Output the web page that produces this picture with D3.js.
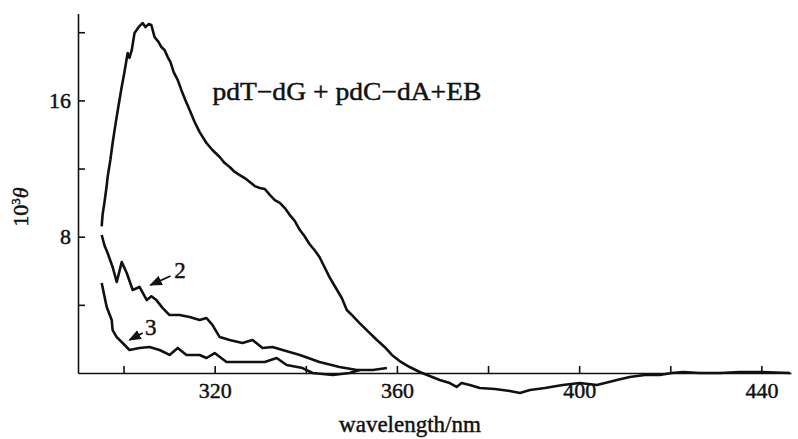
<!DOCTYPE html>
<html>
<head>
<meta charset="utf-8">
<script src="https://cdn.jsdelivr.net/npm/d3@7"></script>
<style>
  body { margin: 0; background: #fff; }
  svg text { font-family: "Liberation Serif", "DejaVu Serif", serif; fill: #111; stroke: #111; stroke-width: 0.45px; }
</style>
</head>
<body>
<svg id="chart" width="798" height="439"></svg>
<script>
/* DATA */
const c1Nm = [295.2,295.4,295.8,296.3,296.5,297.1,297.6,298.2,298.9,299.6,300.2,300.9,301.3,301.8,302.4,303.5,304.2,304.8,305.5,306.1,306.8,307.7,308.3,309.0,309.7,310.3,311.0,311.9,312.7,313.6,314.5,315.6,316.7,318.2,319.5,321.1,322.2,323.3,324.4,325.5,326.6,327.7,328.8,329.9,331.0,332.1,333.2,334.3,335.4,336.5,337.6,338.7,339.7,340.8,341.9,343.0,344.1,345.2,346.6,347.9,349.0,350.3,351.8,353.6,355.6,357.3,358.9,360.6,362.8,365.0,367.2,369.4,371.6,373.1,374.2,376.0,378.2,381.5,384.8,387.0,389.2,392.5,396.4,400.1,403.9,408.3,411.1,414.4,417.7,420.3,422.8,426.5,430.9,435.3,439.7,446.3];
const c1Val = [8.6,9.3,10.0,11.0,11.5,12.5,13.5,14.55,15.7,16.8,17.66,18.78,18.5,18.95,19.95,20.36,20.54,20.3,20.48,20.42,19.72,19.42,19.13,18.96,18.54,18.25,17.66,17.19,16.6,16.0,15.43,14.73,14.14,13.5,13.09,12.68,12.32,12.09,11.8,11.62,11.44,11.21,10.97,10.86,10.8,10.45,10.15,9.98,9.68,9.27,8.92,8.39,8.04,7.57,7.22,6.81,6.22,5.63,4.99,4.4,3.7,3.35,2.93,2.46,1.94,1.53,1.06,0.7,0.35,0.06,-0.18,-0.41,-0.59,-0.82,-0.59,-0.7,-0.88,-0.94,-1.06,-1.17,-1.0,-0.88,-0.7,-0.59,-0.7,-0.41,-0.23,-0.12,-0.12,0,0.06,0,0,0.06,0.06,0];

const c2Nm = [295.2,295.8,296.5,297.6,298.5,299.6,300.7,302.0,303.5,305.1,306.1,307.2,308.6,310.1,312.3,314.5,316.7,318.2,319.5,321.1,323.3,326.1,328.3,330.5,332.7,334.9,338.7,343.0,347.4,351.2,354.7,357.8];
const c2Val = [8.1,7.5,7.04,6.22,5.34,6.51,5.87,4.87,5.05,4.28,4.5,4.28,3.81,3.4,3.4,3.29,3.11,3.23,2.82,2.11,1.94,1.76,1.94,1.47,1.53,1.35,1.06,0.65,0.35,0.18,0.18,0.29];

const c3Nm = [295.2,296.3,297.4,297.6,298.5,299.8,301.3,303.5,305.7,307.9,310.1,311.9,313.8,316.7,318.2,320.0,322.6,324.8,327.7,331.0,333.6,335.8,339.3,341.5,345.9,349.6,351.8];
const c3Val = [5.28,3.87,3.11,2.52,2.11,1.76,1.35,1.47,1.53,1.35,1.06,1.47,1.06,1.06,0.88,1.17,0.65,0.65,0.65,0.65,0.88,0.47,0.29,0,-0.12,0,0.18];

const xTicks = [300,320,340,360,380,400,420,440];
const xLabels = [320,360,400,440];
const yTicks = [4,8,12,16,20];
const yLabels = [8,16];

const title = "pdT\u2212dG + pdC\u2212dA+EB";
const xTitle = "wavelength/nm";

/* SCALES */
const svg = d3.select("#chart");
const x = d3.scaleLinear().domain([290, 446.5]).range([78, 791]);
const y = d3.scaleLinear().domain([0, 21.1]).range([373, 13.5]);

/* AXES */
const xAxis = d3.axisBottom(x)
  .tickValues(xTicks)
  .tickSize(-7).tickSizeOuter(0).tickPadding(9)
  .tickFormat(d => xLabels.includes(d) ? d : "");
const gx = svg.append("g").attr("transform", "translate(0,373)").call(xAxis);

const yAxis = d3.axisLeft(y)
  .tickValues(yTicks)
  .tickSize(-7).tickSizeOuter(0).tickPadding(7)
  .tickFormat(d => yLabels.includes(d) ? d : "");
const gy = svg.append("g").attr("transform", "translate(78,0)").call(yAxis);

[gx, gy].forEach(g => {
  g.select(".domain").attr("stroke", "#111").attr("stroke-width", 1.6);
  g.selectAll(".tick line").attr("stroke", "#111").attr("stroke-width", 1.6);
  g.selectAll("text").attr("font-size", 22).attr("font-family", null).attr("fill", null);
});

/* CURVES */
const line = d3.line().x(d => x(d[0])).y(d => y(d[1]));
[[c1Nm, c1Val], [c2Nm, c2Val], [c3Nm, c3Val]].forEach(([nm, val]) => {
  svg.append("path")
    .datum(nm.map((n, i) => [n, val[i]]))
    .attr("d", line)
    .attr("fill", "none")
    .attr("stroke", "#111")
    .attr("stroke-width", 2.6)
    .attr("stroke-linejoin", "round");
});

/* LABELS */
svg.append("defs").append("marker")
  .attr("id", "head").attr("viewBox", "0 0 10 10")
  .attr("refX", 9).attr("refY", 5)
  .attr("markerWidth", 7).attr("markerHeight", 7)
  .attr("orient", "auto")
  .append("path").attr("d", "M0,1 L10,5 L0,9 Z").attr("fill", "#111");

const arrows = [
  { from: [310.3, 5.69], to: [305.9, 5.16], text: "2", at: [311.1, 5.57] },
  { from: [304.2, 2.35], to: [301.3, 1.94], text: "3", at: [304.7, 2.23] }
];
arrows.forEach(a => {
  svg.append("line")
    .attr("x1", x(a.from[0])).attr("y1", y(a.from[1]))
    .attr("x2", x(a.to[0])).attr("y2", y(a.to[1]))
    .attr("stroke", "#111").attr("stroke-width", 1.8)
    .attr("marker-end", "url(#head)");
  svg.append("text")
    .attr("x", x(a.at[0])).attr("y", y(a.at[1]))
    .attr("font-size", 23)
    .text(a.text);
});

svg.append("text")
  .attr("x", x(319.5)).attr("y", y(16.0))
  .attr("font-size", 25)
  .attr("textLength", 269)
  .attr("lengthAdjust", "spacingAndGlyphs")
  .text(title);

svg.append("text")
  .attr("x", 410).attr("y", 432)
  .attr("text-anchor", "middle")
  .attr("font-size", 23)
  .text(xTitle);

const yl = svg.append("text")
  .attr("transform", "translate(28,207) rotate(-90)")
  .attr("text-anchor", "middle")
  .attr("font-size", 22);
yl.append("tspan").text("10");
yl.append("tspan").attr("font-size", 13).attr("dy", -8).text("3");
yl.append("tspan").attr("dy", 8).attr("font-style", "italic").text("\u03b8");
</script>
</body>
</html>
